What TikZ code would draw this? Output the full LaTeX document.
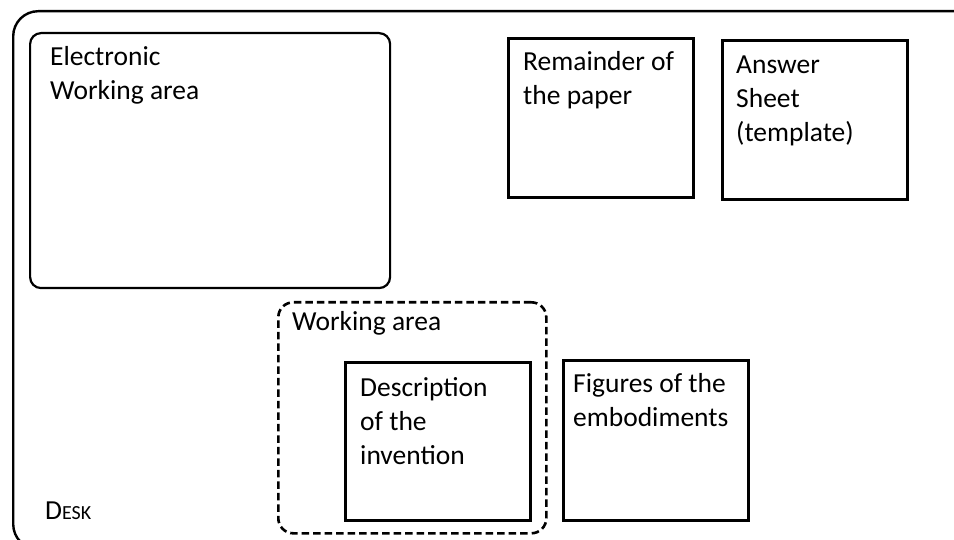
\documentclass[tikz,border=0pt]{standalone}
\usepackage{fontspec}
\setmainfont{Carlito}
\usepackage{tikz}
\usetikzlibrary{positioning}
\tikzset{
  desk/.style={draw, line width=2.4pt, rounded corners=25pt, anchor=north west, inner sep=0pt},
  screen/.style={draw, line width=2.2pt, rounded corners=11pt, anchor=north west, inner sep=0pt},
  sheet/.style={draw, line width=3pt, anchor=north west, inner sep=0pt},
  zone/.style={draw, line width=2.6pt, rounded corners=15pt, dash pattern=on 7.5pt off 4pt,
    anchor=north west, inner sep=0pt},
  caption/.style={anchor=north west, inner sep=0pt, align=left,
    font=\fontsize{27.5}{34}\selectfont}
}
% box with its top left corner at (#3,#4), size #5 x #6
\newcommand{\PlaceBox}[6]{%
  \node[#1, minimum width=#5pt, minimum height=#6pt] (#2) at (#3,#4) {};%
}
% text whose first baseline is at (#2,#3)
\newcommand{\PlaceText}[4]{%
  \node[caption] (#1) at (#2,#3-22) {\rule{0pt}{22pt}#4};%
}
\begin{document}
\begin{tikzpicture}[x=1pt, y=-1pt]
  \useasboundingbox (0,0) rectangle (954,540);
  \clip (0,0) rectangle (954,540);
  % the desk runs off the page to the right and below
  \PlaceBox{desk}{desk}{12}{10}{966}{538}
  \PlaceText{deskText}{45}{519}{D{\fontsize{20}{20}\selectfont ESK}}
  % electronic working area
  \PlaceBox{screen}{screen}{29}{32}{360}{255}
  \PlaceText{screenText}{50}{65}{Electronic\\Working area}
  % papers at the back of the desk
  \PlaceBox{sheet}{remainder}{507}{37}{185}{159}
  \PlaceText{remainderText}{523}{70}{Remainder of\\the paper}
  \PlaceBox{sheet}{answer}{721}{39}{185}{159}
  \PlaceText{answerText}{736}{73}{Answer\\Sheet\\(template)}
  % working area with the description
  \PlaceBox{zone}{work}{277}{301}{268}{231}
  \PlaceText{workText}{292}{330}{Working area}
  \PlaceBox{sheet}{description}{344}{361}{185}{158}
  \PlaceText{descriptionText}{360}{396}{Description\\of the\\invention}
  \PlaceBox{sheet}{figures}{562}{359}{185}{160}
  \PlaceText{figuresText}{573}{392}{Figures of the\\embodiments}
\end{tikzpicture}
\end{document}
